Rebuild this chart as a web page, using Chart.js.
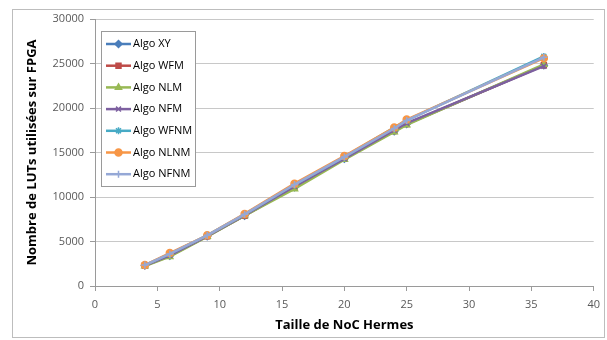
<!DOCTYPE html>
<html>
<head>
<meta charset="utf-8">
<script src="https://cdn.jsdelivr.net/npm/chart.js@4/dist/chart.umd.min.js"></script>
<style>
  html, body { margin: 0; padding: 0; background: #fff; }
  #wrap { position: relative; width: 607px; height: 340px; }
</style>
</head>
<body>
<div id="wrap"><canvas id="myChart" width="607" height="340"></canvas></div>
<script>
// NoC sizes (x axis)
var tailles = [4, 6, 9, 12, 16, 20, 24, 25, 36];

// LUT counts per algorithm
var algoXY   = [2300, 3400, 5600, 7900, 11100, 14300, 17400, 18200, 24800];
var algoWFM  = [2300, 3400, 5600, 7900, 11100, 14300, 17400, 18200, 24800];
var algoNLM  = [2250, 3300, 5550, 7900, 10900, 14200, 17300, 18100, 24900];
var algoNFM  = [2300, 3450, 5600, 7950, 11200, 14300, 17500, 18300, 24700];
var algoWFNM = [2350, 3600, 5700, 8050, 11400, 14500, 17800, 18600, 25800];
var algoNLNM = [2350, 3700, 5700, 8100, 11500, 14600, 17800, 18700, 25600];
var algoNFNM = [2350, 3600, 5700, 8050, 11400, 14500, 17700, 18600, 25700];

var noms = ['Algo XY', 'Algo WFM', 'Algo NLM', 'Algo NFM', 'Algo WFNM', 'Algo NLNM', 'Algo NFNM'];
var series = [algoXY, algoWFM, algoNLM, algoNFM, algoWFNM, algoNLNM, algoNFNM];
var couleurs = ['#4a7ebb', '#be4b48', '#98b954', '#7d60a0', '#46aac5', '#f79646', '#95a8d6'];
var formes = ['rectRot', 'rect', 'triangle', 'crossRot', 'star', 'circle', 'cross'];

function toPoints(vals) {
    return vals.map(function (v, i) { return { x: tailles[i], y: v }; });
}

var datasets = series.map(function (vals, i) {
    return {
        label: noms[i],
        data: toPoints(vals),
        borderColor: couleurs[i],
        backgroundColor: couleurs[i],
        pointBackgroundColor: couleurs[i],
        pointBorderColor: couleurs[i],
        pointStyle: formes[i],
        pointRadius: 3.5,
        pointBorderWidth: 1.5,
        borderWidth: 2.5,
        showLine: true,
        tension: 0,
        order: noms.length - i   // later series drawn on top, like Excel
    };
});

// white background + outer frame
var cadre = {
    id: 'cadre',
    beforeDraw: function (chart) {
        var ctx = chart.ctx;
        ctx.save();
        ctx.fillStyle = '#fff';
        ctx.fillRect(0, 0, chart.width, chart.height);
        ctx.strokeStyle = '#bdbdbd';
        ctx.lineWidth = 1;
        ctx.strokeRect(12.5, 9.5, 592, 328);
        ctx.restore();
    }
};

// legend box drawn inside the plot area
var legende = {
    id: 'legende',
    afterDraw: function (chart) {
        var ctx = chart.ctx;
        ctx.save();
        ctx.fillStyle = '#fff';
        ctx.fillRect(101, 31, 94, 155);
        ctx.strokeStyle = '#9a9a9a';
        ctx.lineWidth = 1;
        ctx.strokeRect(101.5, 31.5, 94, 155);
        ctx.font = '11px "Open Sans", sans-serif';
        ctx.textBaseline = 'middle';
        for (var i = 0; i < noms.length; i++) {
            var y = 44 + i * 21.7;
            ctx.strokeStyle = couleurs[i];
            ctx.lineWidth = 2.5;
            ctx.beginPath();
            ctx.moveTo(106, y);
            ctx.lineTo(131, y);
            ctx.stroke();
            ctx.fillStyle = couleurs[i];
            ctx.lineWidth = 1.5;
            if (Chart.helpers && Chart.helpers.drawPoint) {
                Chart.helpers.drawPoint(ctx, { pointStyle: formes[i], radius: 3.5, rotation: 0, borderWidth: 1.5 }, 118.5, y);
            }
            ctx.fillStyle = '#000';
            ctx.fillText(noms[i], 133, y);
        }
        ctx.restore();
    }
};

var ctx = document.getElementById('myChart');

var myChart = new Chart(ctx, {
    type: 'scatter',
    data: { datasets: datasets },
    options: {
        responsive: false,
        animation: false,
        layout: { padding: { left: 20, right: 12, top: 19, bottom: 3 } },
        plugins: {
            legend: { display: false },
            tooltip: { enabled: false }
        },
        scales: {
            x: {
                type: 'linear',
                min: 0,
                max: 40,
                afterFit: function (scale) { scale.height = 51; },
                ticks: {
                    stepSize: 5,
                    color: '#595959',
                    padding: 7,
                    font: { family: '"Open Sans", sans-serif', size: 11 }
                },
                grid: {
                    color: 'transparent',
                    tickColor: '#9a9a9a',
                    tickLength: 5
                },
                border: { color: '#9a9a9a' },
                title: {
                    display: true,
                    text: 'Taille de NoC Hermes',
                    color: '#000',
                    font: { family: '"Open Sans", sans-serif', size: 13, weight: 'bold' }
                }
            },
            y: {
                min: 0,
                max: 30000,
                afterFit: function (scale) { scale.width = 75; },
                ticks: {
                    stepSize: 5000,
                    color: '#595959',
                    padding: 6,
                    font: { family: '"Open Sans", sans-serif', size: 11 },
                    callback: function (v) { return String(v); }
                },
                grid: {
                    color: function (c) { return c.tick && c.tick.value === 0 ? 'transparent' : '#c8c8c8'; },
                    tickColor: '#9a9a9a',
                    tickLength: 5
                },
                border: { color: '#9a9a9a' },
                title: {
                    display: true,
                    text: 'Nombre de LUTs utilisées sur FPGA',
                    color: '#000',
                    font: { family: '"Open Sans", sans-serif', size: 13, weight: 'bold' }
                }
            }
        }
    },
    plugins: [cadre, legende]
});
</script>
</body>
</html>
